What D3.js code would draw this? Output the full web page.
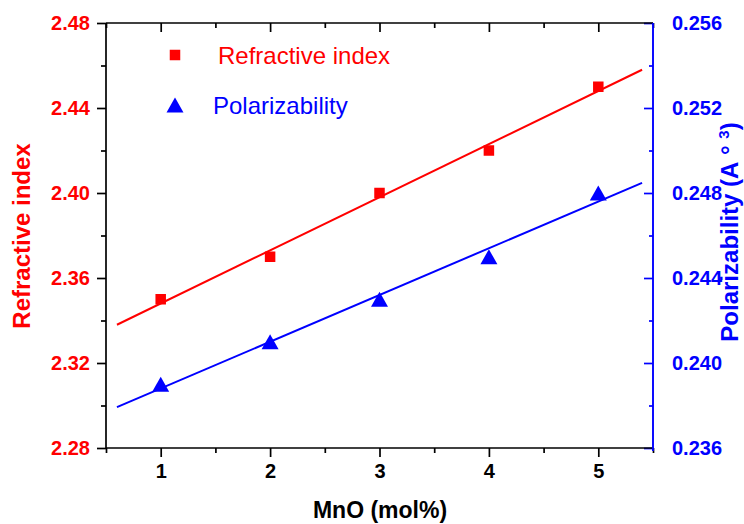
<!DOCTYPE html>
<html>
<head>
<meta charset="utf-8">
<script src="https://cdn.jsdelivr.net/npm/d3@7"></script>
<style>
  html, body { margin: 0; padding: 0; background: #fff; }
  svg { display: block; font-family: "Liberation Sans", Arial, sans-serif; }
</style>
</head>
<body>
<svg id="chart" width="744" height="524"></svg>
<script>
// MnO content (mol%)
const mno = [1, 2, 3, 4, 5];
// Refractive index for each composition
const refractiveIndex = [2.35, 2.37, 2.40, 2.42, 2.45];
// Electronic polarizability (Å^3)
const polarizability = [0.239, 0.241, 0.243, 0.245, 0.248];

const xTicks = [1, 2, 3, 4, 5];
const xMinorTicks = [0.5, 1.5, 2.5, 3.5, 4.5, 5.5];
const leftTicks = [2.28, 2.32, 2.36, 2.40, 2.44, 2.48];
const leftMinorTicks = [2.30, 2.34, 2.38, 2.42, 2.46];
const rightTicks = [0.236, 0.240, 0.244, 0.248, 0.252, 0.256];
const rightMinorTicks = [0.238, 0.242, 0.246, 0.250, 0.254];
const fitRange = [0.6, 5.4];

const RED = "#ff0000", BLUE = "#0000ff";
const svg = d3.select("#chart");
const plot = { left: 106, right: 653, top: 23, bottom: 448 };

const x = d3.scaleLinear().domain([0.5, 5.5]).range([plot.left, plot.right]);
const yL = d3.scaleLinear().domain([2.28, 2.48]).range([plot.bottom, plot.top]);
const yR = d3.scaleLinear().domain([0.236, 0.256]).range([plot.bottom, plot.top]);

// least-squares straight line through a series
function linearFit(xs, ys) {
  const mx = d3.mean(xs), my = d3.mean(ys);
  let sxy = 0, sxx = 0;
  xs.forEach((v, i) => { sxy += (v - mx) * (ys[i] - my); sxx += (v - mx) * (v - mx); });
  const slope = sxy / sxx;
  return v => my + slope * (v - mx);
}

function styleAxis(g, color, labelColor) {
  g.select(".domain").remove();
  g.selectAll(".tick line").attr("stroke", color).attr("stroke-width", 1.7);
  g.selectAll(".tick text")
    .attr("fill", labelColor)
    .attr("font-size", 20)
    .attr("font-weight", "bold")
    .attr("font-family", "'Liberation Sans', Arial, sans-serif");
}

// bottom axis (outward ticks)
const gB = svg.append("g").attr("transform", `translate(0,${plot.bottom})`);
gB.call(d3.axisBottom(x).tickValues(xTicks).tickFormat(d3.format("d")).tickSize(9).tickPadding(7));
styleAxis(gB, "#000", "#000");
const gBm = svg.append("g").attr("transform", `translate(0,${plot.bottom})`);
gBm.call(d3.axisBottom(x).tickValues(xMinorTicks).tickFormat("").tickSize(5));
styleAxis(gBm, "#000", "#000");

// top axis (inward ticks)
const gT = svg.append("g").attr("transform", `translate(0,${plot.top})`);
gT.call(d3.axisBottom(x).tickValues(xTicks).tickFormat("").tickSize(9));
styleAxis(gT, "#000", "#000");
const gTm = svg.append("g").attr("transform", `translate(0,${plot.top})`);
gTm.call(d3.axisBottom(x).tickValues(xMinorTicks).tickFormat("").tickSize(5));
styleAxis(gTm, "#000", "#000");

// left axis (outward ticks)
const gL = svg.append("g").attr("transform", `translate(${plot.left},0)`);
gL.call(d3.axisLeft(yL).tickValues(leftTicks).tickFormat(d3.format(".2f")).tickSize(9).tickPadding(7));
styleAxis(gL, "#000", RED);
const gLm = svg.append("g").attr("transform", `translate(${plot.left},0)`);
gLm.call(d3.axisLeft(yL).tickValues(leftMinorTicks).tickFormat("").tickSize(5));
styleAxis(gLm, "#000", RED);

// right axis (inward ticks)
const gR = svg.append("g").attr("transform", `translate(${plot.right},0)`);
gR.call(d3.axisRight(yR).tickValues(rightTicks).tickFormat(d3.format(".3f")).tickSize(-9).tickPadding(19));
styleAxis(gR, BLUE, BLUE);
const gRm = svg.append("g").attr("transform", `translate(${plot.right},0)`);
gRm.call(d3.axisRight(yR).tickValues(rightMinorTicks).tickFormat("").tickSize(-4));
styleAxis(gRm, BLUE, BLUE);

// frame lines
svg.append("line").attr("x1", plot.left).attr("x2", plot.right).attr("y1", plot.top).attr("y2", plot.top)
  .attr("stroke", "#000").attr("stroke-width", 1.7);
svg.append("line").attr("x1", plot.left).attr("x2", plot.right).attr("y1", plot.bottom).attr("y2", plot.bottom)
  .attr("stroke", "#000").attr("stroke-width", 1.7);
svg.append("line").attr("x1", plot.left).attr("x2", plot.left).attr("y1", plot.top).attr("y2", plot.bottom)
  .attr("stroke", "#000").attr("stroke-width", 1.7);
svg.append("line").attr("x1", plot.right).attr("x2", plot.right).attr("y1", plot.top).attr("y2", plot.bottom + 3)
  .attr("stroke", BLUE).attr("stroke-width", 1.9);

// fitted lines
const fitRI = linearFit(mno, refractiveIndex);
const fitPol = linearFit(mno, polarizability);
svg.append("line")
  .attr("x1", x(fitRange[0])).attr("y1", yL(fitRI(fitRange[0])))
  .attr("x2", x(fitRange[1])).attr("y2", yL(fitRI(fitRange[1])))
  .attr("stroke", RED).attr("stroke-width", 2);
svg.append("line")
  .attr("x1", x(fitRange[0])).attr("y1", yR(fitPol(fitRange[0])))
  .attr("x2", x(fitRange[1])).attr("y2", yR(fitPol(fitRange[1])))
  .attr("stroke", BLUE).attr("stroke-width", 2);

// markers
const SQ = 10.5;
const triPath = (cx, cy) => {
  const w = 17, h = 15;
  return `M${cx},${cy - h / 2}L${cx + w / 2},${cy + h / 2}L${cx - w / 2},${cy + h / 2}Z`;
};
svg.append("g").selectAll("rect").data(mno).join("rect")
  .attr("x", (d) => x(d) - SQ / 2)
  .attr("y", (d, i) => yL(refractiveIndex[i]) - SQ / 2)
  .attr("width", SQ).attr("height", SQ).attr("fill", RED);
svg.append("g").selectAll("path").data(mno).join("path")
  .attr("d", (d, i) => triPath(x(d), yR(polarizability[i])))
  .attr("fill", BLUE);

// legend
svg.append("rect").attr("x", 175 - SQ / 2).attr("y", 55 - SQ / 2).attr("width", SQ).attr("height", SQ).attr("fill", RED);
svg.append("text").attr("x", 218).attr("y", 64).attr("fill", RED)
  .attr("font-size", 24).text("Refractive index");
svg.append("path").attr("d", triPath(175, 105)).attr("fill", BLUE);
svg.append("text").attr("x", 213).attr("y", 114).attr("fill", BLUE)
  .attr("font-size", 24).text("Polarizability");

// axis titles
svg.append("text").attr("x", 380).attr("y", 518).attr("text-anchor", "middle")
  .attr("font-size", 23).attr("font-weight", "bold").attr("fill", "#000").text("MnO (mol%)");
svg.append("text").attr("transform", "translate(30,236) rotate(-90)").attr("text-anchor", "middle")
  .attr("font-size", 24).attr("font-weight", "bold").attr("fill", RED).text("Refractive index");
const rt = svg.append("text").attr("transform", "translate(738,232) rotate(-90)").attr("text-anchor", "middle")
  .attr("font-size", 24).attr("font-weight", "bold").attr("fill", BLUE);
rt.append("tspan").text("Polarizability (A\u00a0\u00b0\u00a0");
rt.append("tspan").attr("font-size", 15).attr("dy", -9).text("3");
rt.append("tspan").attr("dy", 9).text(")");
</script>
</body>
</html>
